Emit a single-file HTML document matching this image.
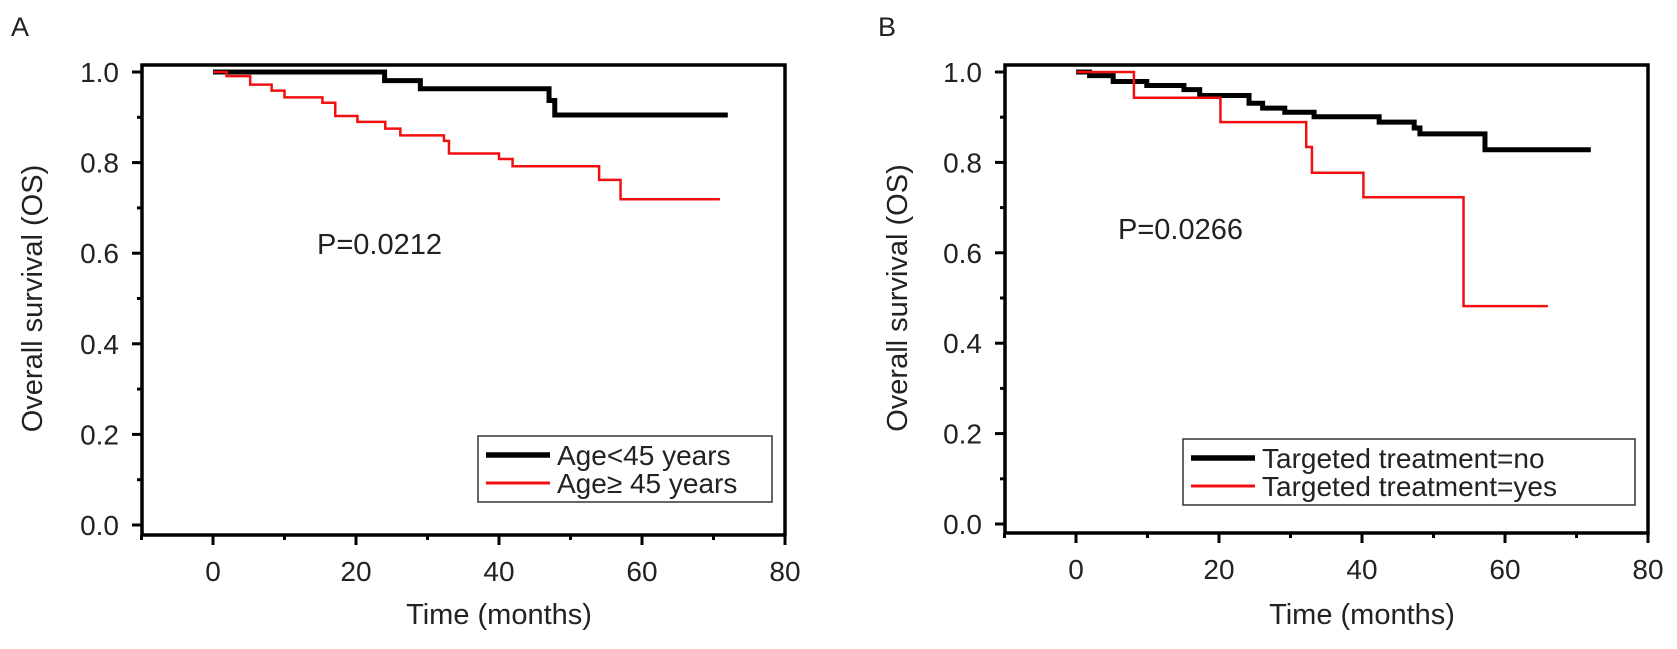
<!DOCTYPE html>
<html><head><meta charset="utf-8"><style>
body{margin:0;background:#fff}
svg text{font-family:"Liberation Sans",Arial,sans-serif;fill:#222}
</style></head><body>
<svg id="s" width="1677" height="644" xmlns="http://www.w3.org/2000/svg">
<text x="11" y="36" font-size="27">A</text>
<text x="878" y="36" font-size="27">B</text>
</svg>
<script>
// Panel A data
const aBlackT=[0,24,29,47,47.8,72];
const aBlackS=[1.0,0.981,0.963,0.937,0.905,0.905];
const aRedT=[0,1.9,5.2,8.2,10,15.3,17.1,20.2,24.1,26.2,32.3,33,40,41.9,54,57,70.9];
const aRedS=[1.0,0.991,0.972,0.959,0.944,0.932,0.903,0.890,0.875,0.860,0.848,0.820,0.808,0.792,0.762,0.719,0.719];
// Panel B data
const bBlackT=[0,1.9,5.2,9.9,15.1,17.3,24.2,26.1,29.2,33.3,42.4,47.3,48.1,57.2,72];
const bBlackS=[1.0,0.992,0.979,0.970,0.961,0.948,0.931,0.920,0.911,0.901,0.889,0.876,0.863,0.828,0.828];
const bRedT=[0,8.1,20.2,32.2,33,40.2,54.2,66];
const bRedS=[1.0,0.943,0.889,0.834,0.777,0.723,0.482,0.482];
const xTicks=[0,20,40,60,80];
const yTicks=[0,0.2,0.4,0.6,0.8,1.0];
const NS="http://www.w3.org/2000/svg";
const svg=document.getElementById('s');
function mk(tag,attrs,parent){const e=document.createElementNS(NS,tag);for(const k in attrs)e.setAttribute(k,attrs[k]);(parent||svg).appendChild(e);return e;}
function panel(p){
  const g=mk('g',{});
  
  
  const X=t=>p.x0+t*p.xu, Y=v=>p.y0-v*p.yu;
  const box=mk('rect',{x:p.L,y:p.T,width:p.R-p.L,height:p.B-p.T,fill:'none',stroke:'#000','stroke-width':3.5},g);
  
  
  for(let i=0;i<=10;i++){const v=i/10;const major=i%2==0;
    mk('line',{x1:p.L-(major?10:5),x2:p.L,y1:Y(v),y2:Y(v),stroke:'#000','stroke-width':3},g);}
  for(let t=-10;t<=80;t+=10){const x=X(t);if(x<p.L-1)continue;const major=t%20==0;
    mk('line',{x1:x,x2:x,y1:p.B,y2:p.B+(major?10:5),stroke:'#000','stroke-width':3},g);}
  yTicks.forEach(v=>{const e=mk('text',{x:p.L-23,y:Y(v)+10,'font-size':28,'text-anchor':'end'},g);e.textContent=v.toFixed(1);
    });
  xTicks.forEach(t=>{const e=mk('text',{x:X(t),y:p.B+46,'font-size':28,'text-anchor':'middle'},g);e.textContent=t;
    });
  const xt=mk('text',{x:X(40),y:624,'font-size':29,'text-anchor':'middle'},g);xt.textContent='Time (months)';
  
  const cy=Y(0.5);
  const yt=mk('text',{x:p.ytx,y:cy,'font-size':29,'text-anchor':'middle',transform:`rotate(-90 ${p.ytx} ${cy})`},g);yt.textContent='Overall survival (OS)';
  
  function curve(T,S,col,w,name){let d=`M${X(T[0])},${Y(S[0])}`;
    for(let i=1;i<T.length;i++){d+=` H${X(T[i])} V${Y(S[i])}`;}
    const e=mk('path',{d:d,fill:'none',stroke:col,'stroke-width':w},g);
    }
  curve(p.bt,p.bs,'#000',5,'curve-black');
  curve(p.rt,p.rs,'#f01010',2.5,'curve-red');
  const pt=mk('text',{x:p.px,y:p.py,'font-size':29},g);pt.textContent=p.ptext;
  
  const lg=mk('g',{},g);
  mk('rect',{x:p.lx,y:p.ly,width:p.lw,height:p.lh,fill:'#fff',stroke:'#333','stroke-width':1.5},lg);
  mk('line',{x1:p.lx+8,x2:p.lx+72,y1:p.ly+19,y2:p.ly+19,stroke:'#000','stroke-width':5.5},lg);
  mk('line',{x1:p.lx+8,x2:p.lx+72,y1:p.ly+47,y2:p.ly+47,stroke:'#f01010','stroke-width':3},lg);
  const t1=mk('text',{x:p.lx+79,y:p.ly+29,'font-size':28},lg);t1.textContent=p.l1;
  
  const t2=mk('text',{x:p.lx+79,y:p.ly+57,'font-size':28},lg);t2.textContent=p.l2;
  
}
panel({name:'panel-a',L:142,R:785,T:65,B:535,x0:213,xu:7.15,y0:525,yu:453,ytx:42,
  bt:aBlackT,bs:aBlackS,rt:aRedT,rs:aRedS,px:317,py:254,ptext:'P=0.0212',
  lx:478,ly:436,lw:294,lh:66,l1:'Age<45 years',l2:'Age\u2265 45 years'});
panel({name:'panel-b',L:1005,R:1648,T:65,B:533,x0:1076,xu:7.15,y0:524,yu:452,ytx:907,
  bt:bBlackT,bs:bBlackS,rt:bRedT,rs:bRedS,px:1118,py:239,ptext:'P=0.0266',
  lx:1183,ly:439,lw:452,lh:66,l1:'Targeted treatment=no',l2:'Targeted treatment=yes'});
</script>
</body></html>
